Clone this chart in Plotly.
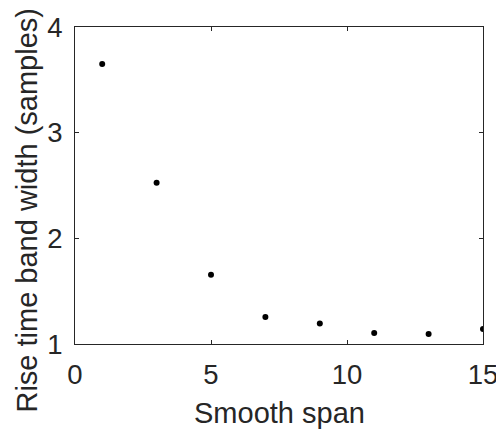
import plotly.graph_objects as go

# Rise-time band width against smoothing span
smooth_span = [1, 3, 5, 7, 9, 11, 13, 15]
band_width = [3.65, 2.525, 1.655, 1.255, 1.195, 1.103, 1.094, 1.143]

x_ticks = [0, 5, 10, 15]
y_ticks = [1, 2, 3, 4]

x_title = "Smooth span"
y_title = "Rise time band width (samples)"

ink = "#262626"
font_family = "Liberation Sans, Arial, Helvetica, sans-serif"
tick_size = 27.5
title_size = 29

fig = go.Figure(
    go.Scatter(
        x=smooth_span,
        y=band_width,
        mode="markers",
        marker=dict(color="black", size=6),
        showlegend=False,
    )
)

axis_common = dict(
    showline=True,
    linecolor=ink,
    linewidth=1,
    mirror="ticks",
    ticks="inside",
    ticklen=4,
    tickwidth=1,
    tickcolor=ink,
    showgrid=False,
    zeroline=False,
    automargin=False,
    ticklabeloverflow="allow",
    tickfont=dict(family=font_family, size=tick_size, color=ink),
)

fig.update_xaxes(
    range=[0, 15],
    tickvals=x_ticks,
    ticktext=[str(v) for v in x_ticks],
    ticklabelstandoff=6,
    **axis_common,
)
fig.update_yaxes(
    range=[1, 4],
    tickvals=y_ticks,
    ticktext=[str(v) for v in y_ticks],
    ticklabelstandoff=6,
    **axis_common,
)

# Axis titles placed as annotations so their position can be set freely
fig.add_annotation(
    text=x_title, xref="paper", yref="paper", x=0.5, y=-0.2177,
    xanchor="center", yanchor="middle", showarrow=False,
    font=dict(family=font_family, size=title_size, color=ink),
)
fig.add_annotation(
    text=y_title, xref="paper", yref="paper", x=-0.1176, y=0.421,
    xanchor="center", yanchor="middle", textangle=-90, showarrow=False,
    font=dict(family=font_family, size=title_size, color=ink),
)

fig.update_layout(
    width=496,
    height=434,
    margin=dict(l=75, r=13, t=27, b=90, autoexpand=False),
    plot_bgcolor="white",
    paper_bgcolor="white",
    font=dict(family=font_family, color=ink),
)

fig.write_html("out.html")
